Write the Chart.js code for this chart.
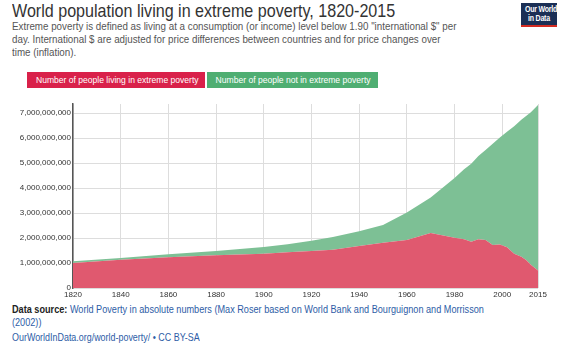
<!DOCTYPE html>
<html>
<head>
<meta charset="utf-8">
<script src="https://cdn.jsdelivr.net/npm/chart.js@4"></script>
<style>
  body { margin: 0; width: 567px; height: 348px; background: #fff; font-family: "Liberation Sans", Arial, sans-serif; position: relative; overflow: hidden; }
  .sq { transform-origin: 0 0; white-space: nowrap; }
  #title { position: absolute; left: 12px; top: 0px; font-size: 18.5px; color: #333; transform: scaleX(0.87); }
  #sub { position: absolute; left: 12px; top: 20px; font-size: 11px; line-height: 13.2px; color: #555; transform: scaleX(0.89); }
  #logo { position: absolute; left: 521px; top: 3px; width: 36px; height: 24px; background: #1b2f55; border-bottom: 2px solid #d42b21; box-sizing: border-box; overflow: hidden; }
  #logo div { color: #fff; font-size: 9px; line-height: 9px; font-weight: bold; white-space: nowrap; text-align: center; transform: scaleX(0.78); transform-origin: 50% 0; margin-top: 2px; letter-spacing: -0.3px; }
  .leg { position: absolute; top: 72px; height: 16px; line-height: 16px; color: #fff; font-size: 9.5px; text-align: center; white-space: nowrap; overflow: hidden; }
  .leg span { display: inline-block; transform: scaleX(0.9); }
  #wrap { position: absolute; left: 0; top: 90px; width: 567px; height: 212px; }
  #foot { position: absolute; left: 12px; top: 303px; font-size: 10.5px; line-height: 13px; color: #2d5ca6; transform: scaleX(0.87); }
  #foot b { color: #222; }
  #url { position: absolute; left: 12px; top: 331px; font-size: 10.5px; color: #2d5ca6; transform: scaleX(0.85); }
</style>
</head>
<body>
<div id="title" class="sq">World population living in extreme poverty, 1820-2015</div>
<div id="sub" class="sq">Extreme poverty is defined as living at a consumption (or income) level below 1.90 "international $" per<br>day. International $ are adjusted for price differences between countries and for price changes over<br>time (inflation).</div>
<div id="logo"><div>Our World<br>in Data</div></div>
<div class="leg" style="left:27px;width:178px;background:#d9214a;"><span>Number of people living in extreme poverty</span></div>
<div class="leg" style="left:207px;width:171px;background:#4fae72;"><span>Number of people not in extreme poverty</span></div>
<div id="wrap"><canvas id="povertyChart"></canvas></div>
<div id="foot" class="sq"><b>Data source:</b> World Poverty in absolute numbers (Max Roser based on World Bank and Bourguignon and Morrisson<br>(2002))</div>
<div id="url" class="sq">OurWorldInData.org/world-poverty/ • CC BY-SA</div>
<script>
const years = [1820, 1840, 1860, 1880, 1900, 1910, 1920, 1929, 1940, 1950, 1960, 1970, 1980, 1984, 1987, 1990, 1993, 1996, 1999, 2002, 2005, 2008, 2010, 2012, 2015];
// billions of people
const poor = [1.00, 1.13, 1.23, 1.31, 1.37, 1.43, 1.48, 1.53, 1.68, 1.81, 1.92, 2.20, 2.01, 1.95, 1.85, 1.95, 1.92, 1.72, 1.74, 1.63, 1.37, 1.25, 1.12, 0.93, 0.70];
const notPoor = [0.07, 0.07, 0.12, 0.17, 0.27, 0.32, 0.41, 0.51, 0.59, 0.71, 1.10, 1.42, 2.39, 2.80, 3.12, 3.33, 3.60, 4.05, 4.28, 4.62, 5.10, 5.48, 5.76, 6.10, 6.62];
const xTicks = [1820, 1840, 1860, 1880, 1900, 1920, 1940, 1960, 1980, 2000, 2015];
const yTicks = [0, 1e9, 2e9, 3e9, 4e9, 5e9, 6e9, 7e9];

const toPoints = function (vals) {
	return years.map(function (y, i) { return { x: y, y: vals[i] * 1e9 }; });
};

const ctx = document.getElementById("povertyChart").getContext("2d");

const povertyChart = new Chart(ctx, {
	type: "line",
	data: {
		datasets: [
			{
				label: "Number of people living in extreme poverty",
				data: toPoints(poor),
				backgroundColor: "#e0596f",
				borderWidth: 0,
				pointRadius: 0,
				fill: "origin",
			},
			{
				label: "Number of people not in extreme poverty",
				data: toPoints(notPoor),
				backgroundColor: "#7dc095",
				borderWidth: 0,
				pointRadius: 0,
				fill: "-1",
			},
		],
	},
	options: {
		responsive: true,
		maintainAspectRatio: false,
		animation: false,
		layout: { padding: { top: 14, right: 29, left: 0, bottom: 0 } },
		plugins: { legend: { display: false }, tooltip: { enabled: false } },
		scales: {
			x: {
				type: "linear",
				min: 1820,
				max: 2015,
				afterBuildTicks: function (axis) {
					axis.ticks = xTicks.map(function (v) { return { value: v }; });
				},
				afterFit: function (axis) { axis.height = 14; },
				ticks: {
					callback: function (v) { return String(v); },
					color: "#333",
					font: { size: 8, family: "Liberation Sans" },
					padding: 2,
					maxRotation: 0,
					autoSkip: false,
				},
				grid: { color: "#dddddd", borderDash: [2, 2], drawTicks: false },
				border: { display: false },
			},
			y: {
				stacked: true,
				min: 0,
				max: 7.36e9,
				afterBuildTicks: function (axis) {
					axis.ticks = yTicks.map(function (v) { return { value: v }; });
				},
				afterFit: function (axis) { axis.width = 73; },
				ticks: {
					callback: function (v) { return Number(v).toLocaleString("en-US"); },
					color: "#333",
					font: { size: 8, family: "Liberation Sans" },
					padding: 2,
				},
				grid: { color: "#dddddd", borderDash: [2, 2], drawTicks: false },
				border: { display: true, color: "#555", width: 1.5 },
			},
		},
	},
});
</script>
</body>
</html>
